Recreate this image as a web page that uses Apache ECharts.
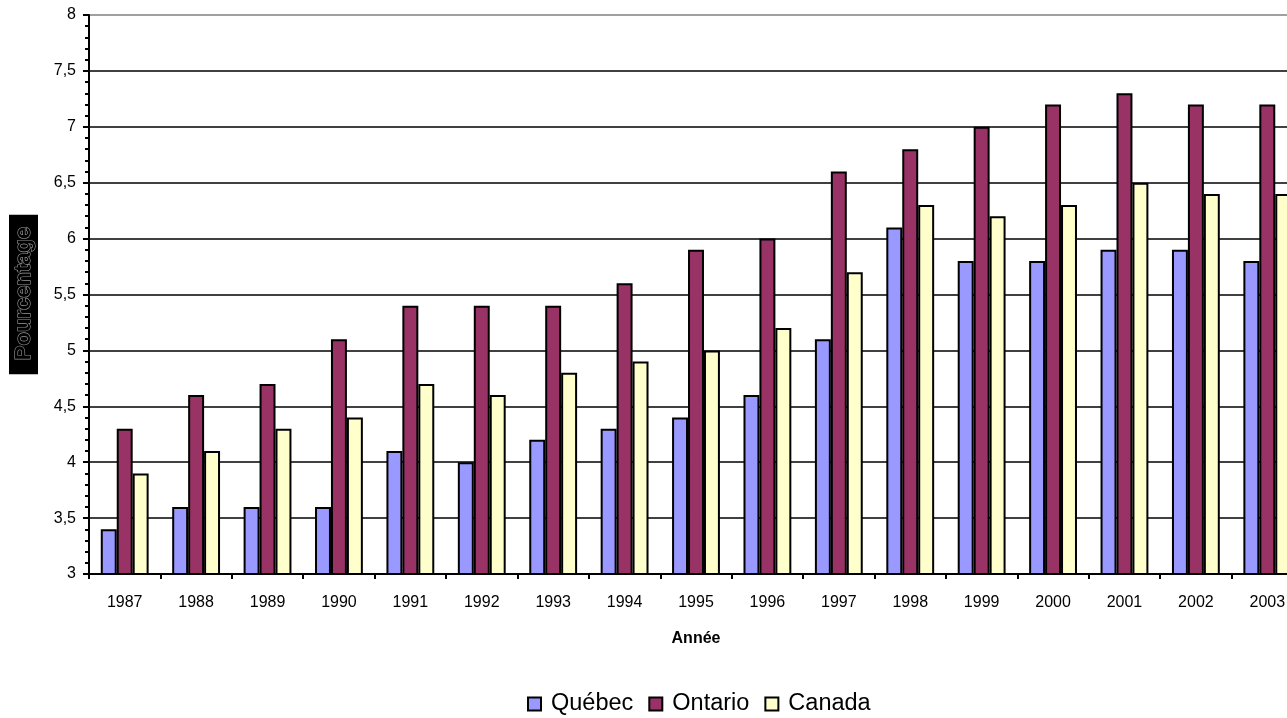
<!DOCTYPE html>
<html>
<head>
<meta charset="utf-8">
<script src="https://cdn.jsdelivr.net/npm/echarts@6/dist/echarts.min.js"></script>
<style>
html,body{margin:0;padding:0;background:#fff;}
#c{width:1287px;height:718px;}
</style>
</head>
<body>
<div id="c"></div>
<script>
const years = ['1987','1988','1989','1990','1991','1992','1993','1994','1995','1996','1997','1998','1999','2000','2001','2002','2003'];
const quebec  = [3.4,3.6,3.6,3.6,4.1,4.0,4.2,4.3,4.4,4.6,5.1,6.1,5.8,5.8,5.9,5.9,5.8];
const ontario = [4.3,4.6,4.7,5.1,5.4,5.4,5.4,5.6,5.9,6.0,6.6,6.8,7.0,7.2,7.3,7.2,7.2];
const canada  = [3.9,4.1,4.3,4.4,4.7,4.6,4.8,4.9,5.0,5.2,5.7,6.3,6.2,6.3,6.5,6.4,6.4];
const seriesNames = ['Québec','Ontario','Canada'];
const colors = ['#9999FF','#993366','#FFFFCC'];
const FONT = 'Arial, "Liberation Sans", sans-serif';

const chart = echarts.init(document.getElementById('c'));
const mk = (name, data, color) => ({
  name: name, type: 'bar', data: data,
  barGap: '0%', barCategoryGap: '33%',
  itemStyle: {color: color, borderColor: '#000', borderWidth: 2},
  emphasis: {disabled: true}
});
chart.setOption({
  animation: false,
  backgroundColor: '#fff',
  textStyle: {fontFamily: FONT},
  grid: {left: 89, top: 15, height: 559, width: 1214, containLabel: false, outerBoundsMode: 'none'},
  legend: {
    data: seriesNames,
    left: 519, top: 688,
    icon: 'rect',
    itemWidth: 13, itemHeight: 13, itemGap: 15,
    backgroundColor: '#fff',
    padding: [4, 14, 10, 8],
    textStyle: {fontSize: 23.5, color: '#000', fontFamily: FONT, padding: [0,0,0,5]},
    itemStyle: {borderColor: '#000', borderWidth: 2}
  },
  xAxis: {
    type: 'category', data: years,
    name: 'Année', nameLocation: 'middle', nameGap: 57,
    nameTextStyle: {fontSize: 16, fontWeight: 'bold', color: '#000', fontFamily: FONT},
    axisLine: {lineStyle: {color: '#000', width: 2}},
    axisTick: {show: true, length: 5, lineStyle: {color: '#000', width: 2}},
    axisLabel: {fontSize: 16, color: '#000', margin: 21}
  },
  yAxis: {
    type: 'value', min: 3, max: 8, interval: 0.5,
    name: 'Pourcentage', nameLocation: 'middle', nameGap: 51, nameRotate: 90,
    nameTextStyle: {fontSize: 22, fontWeight: 'bold', color: '#000', textBorderColor: '#9a9a9a', textBorderWidth: 1.2,
      backgroundColor: '#000', padding: [4, 12, 3, 14], fontFamily: FONT},
    axisLine: {show: true, lineStyle: {color: '#000', width: 2}},
    axisTick: {show: true, length: 6, lineStyle: {color: '#000', width: 2}},
    minorTick: {show: true, splitNumber: 5, length: 4, lineStyle: {color: '#000', width: 2}},
    axisLabel: {fontSize: 16, color: '#000', margin: 13, formatter: v => String(v).replace('.', ',')},
    splitLine: {show: true, lineStyle: {color: ['#000','#000','#000','#000','#000','#000','#000','#000','#000','#000','#808080'], width: 1.5}}
  },
  series: [mk(seriesNames[0], quebec, colors[0]), mk(seriesNames[1], ontario, colors[1]), mk(seriesNames[2], canada, colors[2])]
});
</script>
</body>
</html>
